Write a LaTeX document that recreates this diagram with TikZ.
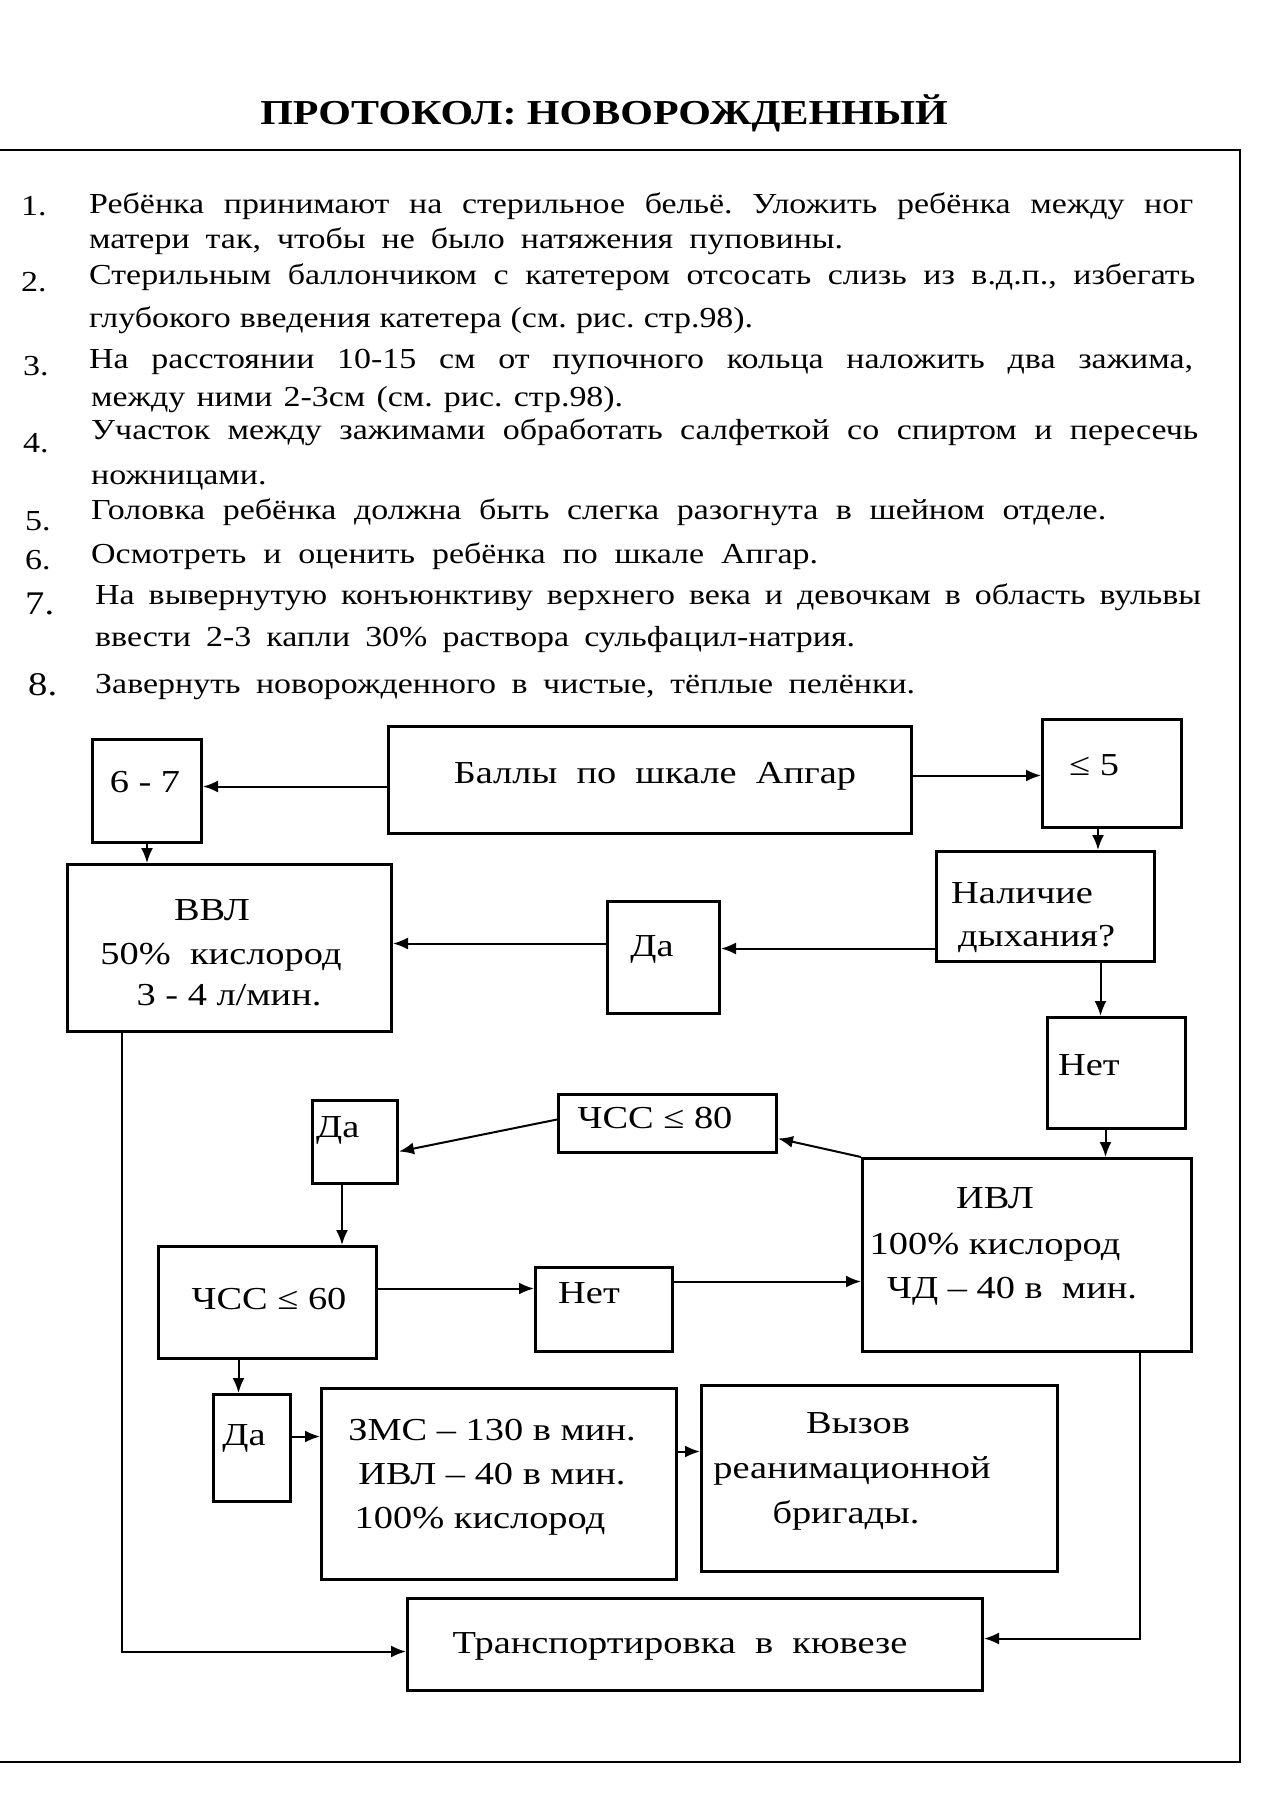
\documentclass[tikz,border=0pt]{standalone}
\usepackage{fontspec}
\setmainfont[FakeStretch=1.2]{Liberation Serif}
\newfontfamily\listfam[FakeStretch=1.17]{Liberation Serif}
\usetikzlibrary{arrows.meta}
\frenchspacing
\newcommand\flowfont{\fontsize{32}{38}\selectfont}
\newcommand\listfont{\listfam\fontsize{29}{35}\selectfont}
\newcommand\bignumfont{\listfam\fontsize{33}{38}\selectfont}
\newcommand\titlefont{\fontsize{35}{42}\selectfont\bfseries}
\begin{document}
\begin{tikzpicture}[x=1pt,y=-1pt,
  bx/.style={draw, line width=3pt, inner sep=0pt, anchor=north west},
  ft/.style={inner sep=0pt, anchor=base, font=\flowfont},
  ftw/.style={inner sep=0pt, anchor=base west, font=\flowfont},
  arr/.style={line width=2pt, -{Latex[length=15pt,width=12pt]}},
  lt/.style={inner sep=0pt, anchor=base west, font=\listfont},
  lnum/.style={inner sep=0pt, anchor=base west, font=\listfont},
  frame/.style={line width=2.5pt}]
\useasboundingbox (0,0) rectangle (1282,1793);
\fill[white] (0,0) rectangle (1282,1793);

% title and frame
\node[inner sep=0pt, anchor=base, font=\titlefont] (title) at (604,124) {ПРОТОКОЛ: НОВОРОЖДЕННЫЙ};
\draw[frame] (0,150) -- (1240,150) -- (1240,1762) -- (0,1762);

% numbered list
\node[lnum] (n1) at (21,215) {1.};
\node[lt] (t1a) at (89,213) {\hbox to 1104pt{Ребёнка принимают на стерильное бельё. Уложить ребёнка между ног}};
\node[lt] (t1b) at (89,248) {\hbox to 754pt{матери так, чтобы не было натяжения пуповины.}};
\node[lnum] (n2) at (21,291) {2.};
\node[lt] (t2a) at (89,284) {\hbox to 1106pt{Стерильным баллончиком с катетером отсосать слизь из в.д.п., избегать}};
\node[lt] (t2b) at (89,327) {\hbox to 664pt{глубокого введения катетера (см. рис. стр.98).}};
\node[lnum] (n3) at (23,375) {3.};
\node[lt] (t3a) at (89,368) {\hbox to 1104pt{На расстоянии 10-15 см от пупочного кольца наложить два зажима,}};
\node[lt] (t3b) at (91,406) {\hbox to 532pt{между ними 2-3см (см. рис. стр.98).}};
\node[lnum] (n4) at (23,452) {4.};
\node[lt] (t4a) at (91,439) {\hbox to 1107pt{Участок между зажимами обработать салфеткой со спиртом и пересечь}};
\node[lt] (t4b) at (91,484) {ножницами.};
\node[lnum] (n5) at (25,530) {5.};
\node[lt] (t5) at (91,519) {\hbox to 1015pt{Головка ребёнка должна быть слегка разогнута в шейном отделе.}};
\node[lnum] (n6) at (25,569) {6.};
\node[lt] (t6) at (91,563) {\hbox to 727pt{Осмотреть и оценить ребёнка по шкале Апгар.}};
\node[lnum, font=\bignumfont] (n7) at (25,614) {7.};
\node[lt] (t7a) at (95,604) {\hbox to 1106pt{На вывернутую конъюнктиву верхнего века и девочкам в область вульвы}};
\node[lt] (t7b) at (95,646) {\hbox to 760pt{ввести 2-3 капли 30\% раствора сульфацил-натрия.}};
\node[lnum, font=\bignumfont] (n8) at (28,695) {8.};
\node[lt] (t8) at (95,693) {\hbox to 820pt{Завернуть новорожденного в чистые, тёплые пелёнки.}};

% flowchart boxes
\node[bx, minimum width=109pt, minimum height=103pt] (s67) at (91,738) {};
\node[bx, minimum width=523pt, minimum height=107pt] (balls) at (387,725) {};
\node[bx, minimum width=139pt, minimum height=108pt] (le5) at (1041,718) {};
\node[bx, minimum width=324pt, minimum height=167pt] (vvl) at (66,863) {};
\node[bx, minimum width=218pt, minimum height=110pt] (nal) at (935,850) {};
\node[bx, minimum width=112pt, minimum height=112pt] (da1) at (606,900) {};
\node[bx, minimum width=138pt, minimum height=111pt] (net1) at (1046,1016) {};
\node[bx, minimum width=329pt, minimum height=193pt] (ivl) at (861,1157) {};
\node[bx, minimum width=218pt, minimum height=58pt] (c80) at (557,1093) {};
\node[bx, minimum width=85pt, minimum height=83pt] (da2) at (311,1099) {};
\node[bx, minimum width=218pt, minimum height=112pt] (c60) at (157,1245) {};
\node[bx, minimum width=137pt, minimum height=84pt] (net2) at (534,1266) {};
\node[bx, minimum width=77pt, minimum height=107pt] (da3) at (212,1393) {};
\node[bx, minimum width=355pt, minimum height=191pt] (zms) at (320,1387) {};
\node[bx, minimum width=356pt, minimum height=186pt] (vyz) at (700,1384) {};
\node[bx, minimum width=575pt, minimum height=92pt] (trans) at (406,1597) {};

% box texts
\node[ft] (s67t) at (145,792) {6 - 7};
\node[ft] (ballst) at (655,783) {Баллы\ \ по\ \ шкале\ \ Апгар};
\node[ft] (le5t) at (1094,775) {≤ 5};
\node[ft] (vvlt1) at (212,920) {ВВЛ};
\node[ft] (vvlt2) at (221,964) {50\%\ \ кислород};
\node[ft] (vvlt3) at (229,1005) {3 - 4 л/мин.};
\node[ftw] (nalt1) at (951,903) {Наличие};
\node[ftw] (nalt2) at (958,946) {дыхания?};
\node[ft] (da1t) at (652,956) {Да};
\node[ftw] (net1t) at (1058,1075) {Нет};
\node[ft] (ivlt1) at (995,1208) {ИВЛ};
\node[ft] (ivlt2) at (995,1254) {100\% кислород};
\node[ft] (ivlt3) at (1012,1298) {ЧД – 40 в\ \ мин.};
\node[ft] (c80t) at (655,1128) {ЧСС ≤ 80};
\node[ftw] (da2t) at (316,1137) {Да};
\node[ft] (c60t) at (269,1309) {ЧСС ≤ 60};
\node[ft] (net2t) at (589,1303) {Нет};
\node[ft] (da3t) at (244,1445) {Да};
\node[ft] (zmst1) at (492,1440) {ЗМС – 130 в мин.};
\node[ft] (zmst2) at (492,1484) {ИВЛ – 40 в мин.};
\node[ft] (zmst3) at (480,1528) {100\% кислород};
\node[ft] (vyzt1) at (858,1433) {Вызов};
\node[ft] (vyzt2) at (852,1478) {реанимационной};
\node[ft] (vyzt3) at (846,1523) {бригады.};
\node[ft] (transt) at (680,1653) {Транспортировка\ \ в\ \ кювезе};

% connectors
\draw[arr] ([yshift=-6.5pt]balls.west) -- ([yshift=-6.5pt]balls.west -| s67.east);
\draw[arr] ([yshift=4.5pt]balls.east) -- ([yshift=4.5pt]balls.east -| le5.west);
\draw[arr] (s67.south) -- (s67.south |- vvl.north);
\draw[arr] ([xshift=-14pt]le5.south) -- ([xshift=-14pt]le5.south |- nal.north);
\draw[arr] ([yshift=9pt]da1.east -| nal.west) -- ([yshift=9pt]da1.east);
\draw[arr] ([yshift=14pt]da1.west) -- ([yshift=14pt]da1.west -| vvl.east);
\draw[arr] ([xshift=55pt]nal.south) -- ([xshift=55pt]nal.south |- net1.north);
\draw[arr] ([xshift=-11pt]net1.south) -- ([xshift=-11pt]net1.south |- ivl.north);
\draw[arr] (ivl.north west) -- ([yshift=-15pt]c80.east);
\draw[arr] ([yshift=4pt]c80.west) -- ([yshift=-9.5pt]da2.east);
\draw[arr] ([xshift=-13pt]da2.south) -- ([xshift=-13pt]da2.south |- c60.north);
\draw[arr] ([yshift=14pt]c60.east) -- ([yshift=14pt]c60.east -| net2.west);
\draw[arr] ([yshift=28pt]net2.east) -- ([yshift=28pt]net2.east -| ivl.west);
\draw[arr] ([xshift=-29pt]c60.south) -- ([xshift=-29pt]c60.south |- da3.north);
\draw[arr] ([yshift=11.5pt]da3.east) -- ([yshift=11.5pt]da3.east -| zms.west);
\draw[arr] ([yshift=32.5pt]zms.east) -- ([yshift=32.5pt]zms.east -| vyz.west);
\draw[arr] ([xshift=-108pt]vvl.south) |- ([yshift=-7pt]trans.west);
\draw[arr] ([xshift=112.5pt]ivl.south) |- ([yshift=6pt]trans.east);
\end{tikzpicture}
\end{document}
